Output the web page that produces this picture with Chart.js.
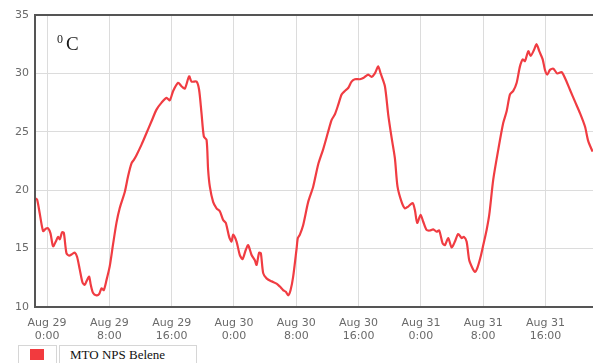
<!DOCTYPE html>
<html>
<head>
<meta charset="utf-8">
<script src="https://cdn.jsdelivr.net/npm/chart.js@4"></script>
<style>
  body { margin: 0; background: #fff; }
  #wrap { position: relative; width: 593px; height: 363px; overflow: hidden; }
  #grafico { position: absolute; left: 0; top: 0; }
  .leg { position: absolute; top: 345px; height: 19px; border: 1px solid #d6d6d6; box-sizing: border-box; background: #fff; }
  #legCor { left: 18px; width: 39px; }
  #legCor span { position: absolute; left: 11px; top: 3px; width: 14px; height: 11px; background: #f23a3e; }
  #legTxt { left: 59px; width: 138px; font: 13px "Liberation Serif", serif; color: #111; padding-left: 10px; line-height: 18px; }
</style>
</head>
<body>
<div id="wrap">
  <canvas id="grafico" width="593" height="343"></canvas>
  <div class="leg" id="legCor"><span></span></div>
  <div class="leg" id="legTxt">MTO NPS Belene</div>
</div>
<script>
// horas desde Aug 29 0:00
const horas = [
  -1.5, -1.28, -0.94, -0.51, -0.17, 0.13, 0.44, 0.77, 1.12, 1.41, 1.63, 1.93, 2.15, 2.49, 2.83, 3.26, 3.56, 3.85,
  4.2, 4.55, 4.84, 5.06, 5.4, 5.61, 5.91, 6.35, 6.68, 6.99, 7.28, 7.63, 8.05, 8.48, 8.91, 9.34, 9.98, 10.4,
  10.84, 11.14, 11.48, 12.13, 12.77, 13.41, 14.05, 14.7, 15.34, 15.76, 16.19, 16.83, 17.26, 17.69, 18.24, 18.55,
  19.19, 19.52, 19.83, 20.13, 20.48, 20.68, 20.9, 21.32, 21.76, 22.18, 22.61, 22.95, 23.38, 23.69, 23.89, 24.33,
  24.75, 25.1, 25.52, 25.82, 26.26, 26.68, 26.9, 27.23, 27.45, 27.75, 28.18, 28.82, 29.47, 29.89, 30.31, 30.66,
  30.96, 31.27, 31.6, 32.04, 32.2, 32.46, 32.88, 33.53, 34.17, 34.81, 35.45, 36.09, 36.53, 36.96, 37.38, 37.82,
  38.24, 38.66, 39.1, 39.52, 40.17, 40.59, 41.23, 41.67, 42.09, 42.52, 42.83, 43.38, 43.8, 44.24, 44.66, 45.0,
  45.52, 45.95, 46.37, 46.94, 47.23, 47.53, 47.96, 48.3, 48.73, 49.16, 49.58, 50.02, 50.35, 50.79, 51.09, 51.51,
  51.95, 52.37, 52.79, 53.23, 53.52, 53.87, 54.21, 54.64, 54.94, 55.23, 55.67, 56.01, 56.44, 56.78, 57.29, 57.93,
  58.57, 59.01, 59.44, 59.86, 60.3, 60.72, 61.07, 61.36, 61.79, 62.09, 62.52, 62.86, 63.2, 63.64, 63.93, 64.23,
  64.57, 65.0, 65.51, 66.08, 66.5, 67.14, 67.78, 68.43, 69.07, 69.49, 70.05
];
const temperaturas = [
  19.3, 19.2, 18.0, 16.5, 16.7, 16.75, 16.3, 15.2, 15.6, 16.0, 15.8, 16.4, 16.35, 14.6, 14.4, 14.55, 14.65, 14.3,
  13.2, 12.1, 11.9, 12.2, 12.6, 11.9, 11.2, 11.0, 11.1, 11.6, 11.45, 12.3, 13.5, 15.4, 17.2, 18.5, 19.85, 21.2,
  22.3, 22.6, 23.0, 23.9, 24.9, 25.9, 26.9, 27.5, 27.9, 27.7, 28.5, 29.2, 28.9, 28.7, 29.75, 29.3,
  29.3, 28.6, 26.6, 24.6, 24.3, 21.75, 20.3, 19.0, 18.45, 18.2, 17.45, 17.2, 16.0, 15.6, 16.2, 15.6,
  14.45, 14.1, 14.9, 15.3, 14.45, 14.0, 13.6, 14.65, 14.6, 12.9, 12.45, 12.2, 12.0, 11.75, 11.45, 11.3,
  11.0, 11.45, 12.6, 15.0, 15.9, 16.2, 17.0, 19.0, 20.3, 22.2, 23.5, 25.0, 26.0, 26.5, 27.3, 28.2,
  28.5, 28.75, 29.3, 29.5, 29.5, 29.6, 29.9, 29.7, 30.0, 30.6, 30.0, 28.9, 26.5, 24.5, 22.75, 20.3,
  19.0, 18.45, 18.6, 18.9, 18.3, 17.2, 17.9, 17.3, 16.6, 16.55, 16.65, 16.45, 16.55, 15.45, 15.3, 15.9,
  15.1, 15.6, 16.25, 15.9, 16.0, 15.6, 14.0, 13.3, 13.0, 13.3, 14.3, 15.3, 16.6, 17.9, 20.9, 23.45,
  25.75, 26.75, 28.2, 28.5, 29.2, 30.6, 31.2, 31.05, 31.9, 31.5, 32.0, 32.5, 31.9, 31.2, 30.3, 29.9,
  30.3, 30.4, 30.0, 30.1, 29.6, 28.6, 27.6, 26.6, 25.45, 24.2, 23.3
];

const ticksHoras = [0, 8, 16, 24, 32, 40, 48, 56, 64];
const ticksDia = ['Aug 29', 'Aug 29', 'Aug 29', 'Aug 30', 'Aug 30', 'Aug 30', 'Aug 31', 'Aug 31', 'Aug 31'];
const ticksHora = ['0:00', '8:00', '16:00', '0:00', '8:00', '16:00', '0:00', '8:00', '16:00'];

const pontos = horas.map((h, i) => ({ x: h, y: temperaturas[i] }));

// moldura do gráfico e rótulo da unidade
const moldura = {
  id: 'moldura',
  afterDraw(chart) {
    const { ctx, chartArea: a } = chart;
    ctx.save();
    ctx.strokeStyle = '#555';
    ctx.lineWidth = 2;
    ctx.beginPath();
    ctx.moveTo(a.right + 2, a.top);
    ctx.lineTo(a.left, a.top);
    ctx.lineTo(a.left, a.bottom);
    ctx.lineTo(a.right + 2, a.bottom);
    ctx.stroke();
    ctx.fillStyle = '#1a1a1a';
    ctx.font = '12px "Liberation Serif", serif';
    ctx.fillText('0', a.left + 22, a.top + 28);
    ctx.font = '19px "Liberation Serif", serif';
    ctx.fillText('C', a.left + 31, a.top + 35);
    ctx.restore();
  }
};

const ctx = document.getElementById('grafico').getContext('2d');
new Chart(ctx, {
  type: 'line',
  data: {
    datasets: [{
      label: 'MTO NPS Belene',
      data: pontos,
      borderColor: 'rgb(240, 60, 66)',
      borderWidth: 2.2,
      pointRadius: 0,
      tension: 0.25,
      fill: false
    }]
  },
  options: {
    responsive: false,
    animation: false,
    layout: { padding: { top: 15, right: 0, left: 0, bottom: 0 } },
    plugins: { legend: { display: false }, tooltip: { enabled: false } },
    scales: {
      x: {
        type: 'linear',
        min: -1.55,
        max: 70.1,
        afterBuildTicks: s => { s.ticks = ticksHoras.map(v => ({ value: v })); },
        afterFit: s => { s.height = 36; },
        grid: { color: '#dcdcdc', drawTicks: false },
        border: { display: false },
        ticks: {
          padding: 9,
          maxRotation: 0,
          autoSkip: false,
          color: '#6a6a6a',
          font: { family: 'DejaVu Sans', size: 11, lineHeight: 1.25 },
          callback: v => {
            const i = ticksHoras.indexOf(v);
            return i < 0 ? '' : [ticksDia[i], ticksHora[i]];
          }
        }
      },
      y: {
        min: 10,
        max: 35,
        afterFit: s => { s.width = 35; },
        grid: { color: '#dcdcdc', drawTicks: false },
        border: { display: false },
        ticks: {
          stepSize: 5,
          padding: 6,
          color: '#6a6a6a',
          font: { family: 'DejaVu Sans', size: 11 }
        }
      }
    }
  },
  plugins: [moldura]
});
</script>
</body>
</html>
